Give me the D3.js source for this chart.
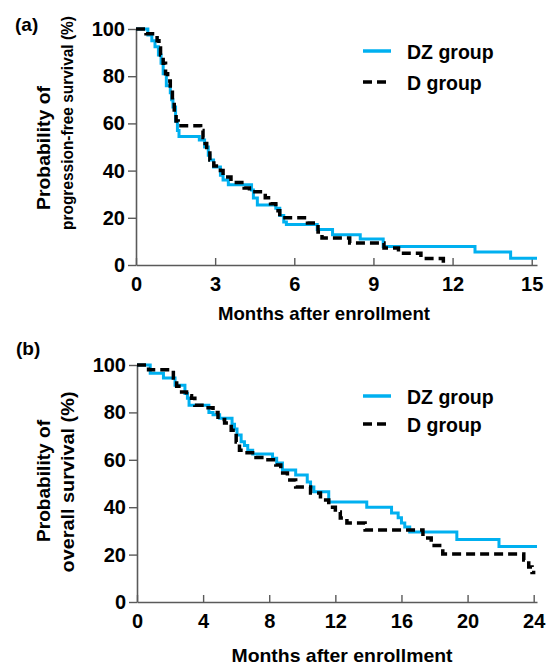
<!DOCTYPE html>
<html>
<head>
<meta charset="utf-8">
<script src="https://cdn.jsdelivr.net/npm/d3@7"></script>
<style>
  body { margin: 0; background: #fff; }
  svg { display: block; font-family: "Liberation Sans", Arial, sans-serif; }
</style>
</head>
<body>
<div id="chart"></div>
<script>
// Kaplan-Meier steps: [month, survival %]
const pfsDZ = [[0,100],[0.45,97.5],[0.6,95],[0.72,92.5],[0.85,89],[0.95,85.5],[1.03,81],[1.15,76],[1.3,73],[1.35,70],[1.4,67],[1.5,61],[1.57,57],[1.63,54.5],
  [2.4,53],[2.6,50],[2.74,46.5],[2.8,44.5],[2.94,41.5],[3.2,38],[3.3,36],[3.5,34],[4.38,31.8],[4.45,28.4],[4.6,25.4],
  [5.3,24],[5.45,21],[5.6,18.2],[5.7,17.2],[6.87,15],[7.45,12.8],[8.5,11],[9.37,7.8],[12.85,5.5],[14.2,2.9],[15.2,2.9]];
const pfsD = [[0,100],[0.38,98],[0.8,95],[0.87,92],[0.93,89],[1.03,85.5],[1.12,81],[1.2,78],[1.3,74],[1.38,70],[1.45,65.7],[1.52,61],[1.6,59],
  [2.45,57],[2.54,54],[2.62,51.5],[2.68,48.7],[2.8,44.5],[2.95,42],[3.2,40],[3.3,37.3],[3.6,35],[4.1,32.6],[4.3,31],
  [4.9,28.5],[5.1,26],[5.3,23],[5.45,20],[6.5,17.8],[6.9,14],[7.05,11.4],[8.1,9.3],[9.4,7.2],[9.95,5],[10.8,2.8],[11.65,0]];
const osDZ = [[0,100],[0.8,96.5],[1.6,94.5],[2.3,91.5],[2.9,88],[3.05,86],[3.15,83],[4.35,80],[4.6,79],[5.0,77.5],[5.75,75],[5.9,73],
  [6.05,70.5],[6.3,67.6],[6.5,66],[6.7,64],[7.0,62.5],[8.2,60.7],[8.45,58.6],[8.8,55.7],[9.6,53.6],[10.3,50.6],[10.5,48.5],
  [10.7,46.5],[11.6,42.2],[13.9,40],[15.4,37.6],[15.8,35.5],[16.0,33.3],[16.2,31.6],[16.5,29.5],[19.35,26.4],[21.9,23.4],[24.2,23.4]];
const osD = [[0,100],[0.7,98],[2.2,94.5],[2.4,91],[2.7,88.6],[3.0,87],[3.3,86],[3.5,83],[4.1,82],[4.6,80],[4.9,77],[5.3,75.5],
  [5.7,72.5],[6.0,67.5],[6.2,64],[6.5,63],[7.2,61],[7.8,60],[8.4,57.8],[8.7,54.4],[9.1,51.5],[9.6,48.5],[10.5,46],[11.1,43],
  [11.6,40],[12.0,38],[12.3,35.4],[12.7,33.3],[13.8,30.4],[17.3,27],[17.8,23.8],[18.5,20.3],[23.4,17.7],[23.7,14.8],[23.9,12.5],[24.1,12.5]];

const pfsTicks = [0, 3, 6, 9, 12, 15];
const osTicks = [0, 4, 8, 12, 16, 20, 24];
const yTicks = [0, 20, 40, 60, 80, 100];
const groups = ["DZ group", "D group"];
const colors = ["#00b0f0", "#000000"];

const svg = d3.select("#chart").append("svg")
  .attr("width", 552)
  .attr("height", 665);

function drawPanel(p) {
  const x = d3.scaleLinear().domain([0, p.xMax]).range([p.left, p.right]);
  const y = d3.scaleLinear().domain([0, 100]).range([p.bottom, p.top]);

  const g = svg.append("g");

  // y axis, ticks outward
  const yAxis = g.append("g")
    .attr("transform", `translate(${p.left},0)`)
    .call(d3.axisLeft(y).tickValues(yTicks).tickSize(8).tickSizeOuter(0).tickPadding(3));

  // x axis, ticks pointing into the plot
  const xAxis = g.append("g")
    .attr("transform", `translate(0,${p.bottom})`)
    .call(d3.axisBottom(x).tickValues(p.xTicks).tickSize(-7).tickSizeOuter(0).tickPadding(p.xPad));

  [yAxis, xAxis].forEach(a => {
    a.select(".domain").attr("stroke", "#5a5a5a").attr("stroke-width", 1.6);
    a.selectAll(".tick line").attr("stroke", "#5a5a5a").attr("stroke-width", 1.4);
    a.selectAll(".tick text")
      .attr("fill", "#000")
      .style("font-family", '"Liberation Sans", Arial, sans-serif')
      .style("font-size", "20px")
      .style("font-weight", "bold");
  });

  const line = d3.line()
    .x(d => x(d[0]))
    .y(d => y(d[1]))
    .curve(d3.curveStepAfter);

  g.append("path")
    .datum(p.dz)
    .attr("fill", "none")
    .attr("stroke", colors[0])
    .attr("stroke-width", 3)
    .attr("d", line);

  g.append("path")
    .datum(p.d)
    .attr("fill", "none")
    .attr("stroke", colors[1])
    .attr("stroke-width", 3.5)
    .attr("stroke-dasharray", "9,5")
    .attr("d", line);

  // panel tag
  g.append("text")
    .attr("x", p.tagX).attr("y", p.tagY)
    .style("font-size", "19px").style("font-weight", "bold")
    .text(p.tag);

  // y title, two lines
  p.yTitle.forEach(t => {
    g.append("text")
      .attr("transform", `translate(${t.x},${t.y}) rotate(-90)`)
      .attr("text-anchor", "middle")
      .attr("textLength", t.len)
      .attr("lengthAdjust", "spacingAndGlyphs")
      .style("font-size", t.size + "px").style("font-weight", "bold")
      .text(t.text);
  });

  // x title
  g.append("text")
    .attr("x", p.xTitleX).attr("y", p.xTitleY)
    .attr("text-anchor", "middle")
    .attr("textLength", p.xTitleLen)
    .attr("lengthAdjust", "spacingAndGlyphs")
    .style("font-size", "19px").style("font-weight", "bold")
    .text("Months after enrollment");

  // legend
  groups.forEach((name, i) => {
    const ly = p.legendY[i];
    g.append("line")
      .attr("x1", 363).attr("x2", 391)
      .attr("y1", ly).attr("y2", ly)
      .attr("stroke", colors[i])
      .attr("stroke-width", 3.5)
      .attr("stroke-dasharray", i === 0 ? null : "9,5");
    g.append("text")
      .attr("x", 407).attr("y", ly + 8)
      .style("font-size", "19.5px").style("font-weight", "bold")
      .text(name);
  });
}

drawPanel({
  tag: "(a)", tagX: 15, tagY: 31,
  left: 136, right: 537, top: 29, bottom: 265, xMax: 15.2, xTicks: pfsTicks, xPad: 12,
  dz: pfsDZ, d: pfsD,
  yTitle: [
    {text: "Probability of", x: 50, y: 148, len: 124, size: 18},
    {text: "progression-free survival (%)", x: 73, y: 123, len: 214, size: 16}
  ],
  xTitleX: 324, xTitleY: 320, xTitleLen: 212,
  legendY: [51, 82]
});

drawPanel({
  tag: "(b)", tagX: 16, tagY: 355,
  left: 137, right: 537, top: 365, bottom: 602, xMax: 24.2, xTicks: osTicks, xPad: 12,
  dz: osDZ, d: osD,
  yTitle: [
    {text: "Probability of", x: 50, y: 481, len: 122, size: 18},
    {text: "overall survival (%)", x: 74, y: 482, len: 181, size: 18}
  ],
  xTitleX: 342, xTitleY: 662, xTitleLen: 221,
  legendY: [396, 424]
});
</script>
</body>
</html>
